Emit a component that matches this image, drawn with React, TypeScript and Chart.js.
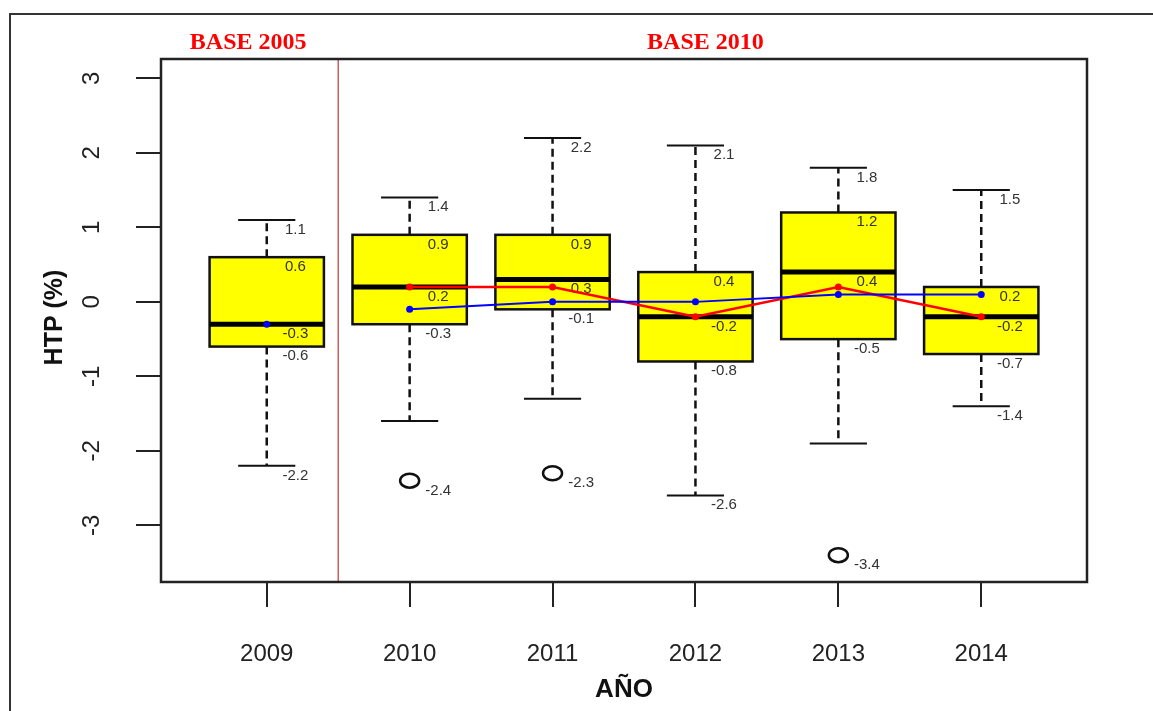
import React, { useEffect, useRef } from 'react';
import { Chart, registerables } from 'chart.js';

Chart.register(...registerables);

// ---- data ----
const years = ['2009', '2010', '2011', '2012', '2013', '2014'];
const whiskerHigh = [1.1, 1.4, 2.2, 2.1, 1.8, 1.5];
const q3 = [0.6, 0.9, 0.9, 0.4, 1.2, 0.2];
const medians = [-0.3, 0.2, 0.3, -0.2, 0.4, -0.2];
const q1 = [-0.6, -0.3, -0.1, -0.8, -0.5, -0.7];
const whiskerLow = [-2.2, -1.6, -1.3, -2.6, -1.9, -1.4];
const outliers: number[][] = [[], [-2.4], [-2.3], [], [-3.4], []];
const redSeries = [null, 0.2, 0.2, -0.2, 0.2, -0.2];
const blueBase2005 = [-0.3, null, null, null, null, null];
const blueBase2010 = [null, -0.1, 0.0, 0.0, 0.1, 0.1];
const yTicks = [-3, -2, -1, 0, 1, 2, 3];
const baseLabels = ['BASE 2005', 'BASE 2010'];
const basePositions = [0.87, 4.07];
const baseDivider = 1.5;
const xMin = 0.26;
const xMax = 6.74;
const yMin = -3.76;
const yMax = 3.26;

const toPoints = (arr: (number | null)[]) => arr.map((v, i) => ({ x: i + 1, y: v }));

const boxPlugin = {
  id: 'boxplots',
  beforeDatasetsDraw(chart: any) {
    const { ctx, scales, chartArea } = chart;
    const x = scales.x;
    const y = scales.y;
    ctx.save();
    // divider between bases
    const dx = x.getPixelForValue(baseDivider);
    ctx.strokeStyle = '#c83232';
    ctx.lineWidth = 1.2;
    ctx.beginPath();
    ctx.moveTo(dx, chartArea.top);
    ctx.lineTo(dx, chartArea.bottom);
    ctx.stroke();

    years.forEach((_, i) => {
      const cx = x.getPixelForValue(i + 1);
      const half = x.getPixelForValue(i + 1 + 0.4) - cx;
      const capHalf = half / 2;
      const yHi = y.getPixelForValue(whiskerHigh[i]);
      const yQ3 = y.getPixelForValue(q3[i]);
      const yMed = y.getPixelForValue(medians[i]);
      const yQ1 = y.getPixelForValue(q1[i]);
      const yLo = y.getPixelForValue(whiskerLow[i]);

      // whiskers
      ctx.strokeStyle = '#111';
      ctx.lineWidth = 2.5;
      ctx.setLineDash([8, 5]);
      ctx.beginPath();
      ctx.moveTo(cx, yQ3);
      ctx.lineTo(cx, yHi);
      ctx.moveTo(cx, yQ1);
      ctx.lineTo(cx, yLo);
      ctx.stroke();
      ctx.setLineDash([]);
      ctx.lineWidth = 2;
      ctx.beginPath();
      ctx.moveTo(cx - capHalf, yHi);
      ctx.lineTo(cx + capHalf, yHi);
      ctx.moveTo(cx - capHalf, yLo);
      ctx.lineTo(cx + capHalf, yLo);
      ctx.stroke();

      // box
      ctx.fillStyle = '#ffff00';
      ctx.fillRect(cx - half, yQ3, 2 * half, yQ1 - yQ3);
      ctx.lineWidth = 2.5;
      ctx.strokeStyle = '#111';
      ctx.strokeRect(cx - half, yQ3, 2 * half, yQ1 - yQ3);
      // median
      ctx.lineWidth = 5;
      ctx.strokeStyle = '#000';
      ctx.beginPath();
      ctx.moveTo(cx - half, yMed);
      ctx.lineTo(cx + half, yMed);
      ctx.stroke();

      // outliers
      ctx.lineWidth = 2.5;
      ctx.strokeStyle = '#111';
      outliers[i].forEach((o) => {
        const oy = y.getPixelForValue(o);
        ctx.beginPath();
        ctx.ellipse(cx, oy, 9.5, 7, 0, 0, Math.PI * 2);
        ctx.stroke();
      });

      // five-number labels
      const minVal = outliers[i].length ? Math.min(...outliers[i]) : whiskerLow[i];
      const labels = [whiskerHigh[i], q3[i], medians[i], q1[i], minVal];
      ctx.fillStyle = '#333';
      ctx.font = '15px "Liberation Sans", Arial, sans-serif';
      ctx.textAlign = 'center';
      ctx.textBaseline = 'middle';
      const lx = x.getPixelForValue(i + 1 + 0.2);
      labels.forEach((v) => {
        ctx.fillText(String(v), lx, y.getPixelForValue(v - 0.13));
      });
    });
    ctx.restore();
  },
  afterDraw(chart: any) {
    const { ctx, scales, chartArea } = chart;
    const x = scales.x;
    const y = scales.y;
    ctx.save();
    // plot frame
    ctx.strokeStyle = '#222';
    ctx.lineWidth = 2.5;
    ctx.strokeRect(chartArea.left, chartArea.top, chartArea.right - chartArea.left, chartArea.bottom - chartArea.top);
    // outer frame
    ctx.lineWidth = 2;
    ctx.strokeStyle = '#333';
    ctx.strokeRect(10, 14, 1300, 900);

    // y tick labels (rotated)
    ctx.fillStyle = '#222';
    ctx.font = '24px "Liberation Sans", Arial, sans-serif';
    ctx.textAlign = 'center';
    ctx.textBaseline = 'middle';
    yTicks.forEach((t) => {
      ctx.save();
      ctx.translate(92, y.getPixelForValue(t));
      ctx.rotate(-Math.PI / 2);
      ctx.fillText(String(t), 0, 0);
      ctx.restore();
    });

    // axis titles
    ctx.font = 'bold 25px "Liberation Sans", Arial, sans-serif';
    ctx.fillStyle = '#111';
    ctx.save();
    ctx.translate(55, (chartArea.top + chartArea.bottom) / 2 - 3);
    ctx.rotate(-Math.PI / 2);
    ctx.fillText('HTP (%)', 0, 0);
    ctx.restore();
    ctx.font = 'bold 26px "Liberation Sans", Arial, sans-serif';
    ctx.fillText('AÑO', (chartArea.left + chartArea.right) / 2, 690);

    // base labels
    ctx.font = 'bold 24px "Liberation Serif", "Times New Roman", serif';
    ctx.fillStyle = '#ff0000';
    baseLabels.forEach((lab, k) => {
      ctx.fillText(lab, x.getPixelForValue(basePositions[k]), 43);
    });
    ctx.restore();
  },
};

export default function App() {
  const canvasRef = useRef<HTMLCanvasElement | null>(null);

  useEffect(() => {
    if (!canvasRef.current) return;
    const chart = new Chart(canvasRef.current, {
      type: 'line',
      data: {
        datasets: [
          {
            label: 'blue2005',
            data: toPoints(blueBase2005),
            borderColor: '#0000ff',
            backgroundColor: '#0000ff',
            borderWidth: 2,
            pointRadius: 3.5,
            pointBorderWidth: 0,
            spanGaps: false,
          },
          {
            label: 'blue2010',
            data: toPoints(blueBase2010),
            borderColor: '#0000ff',
            backgroundColor: '#0000ff',
            borderWidth: 2,
            pointRadius: 3.5,
            pointBorderWidth: 0,
            spanGaps: false,
          },
          {
            label: 'red',
            data: toPoints(redSeries),
            borderColor: '#ff0000',
            backgroundColor: '#ff0000',
            borderWidth: 2.5,
            pointRadius: 3.5,
            pointBorderWidth: 0,
            spanGaps: false,
          },
        ],
      },
      options: {
        responsive: false,
        animation: false,
        devicePixelRatio: 1,
        layout: { padding: { top: 59, right: 66, left: 0, bottom: 0 } },
        plugins: { legend: { display: false }, tooltip: { enabled: false } },
        scales: {
          x: {
            type: 'linear',
            min: xMin,
            max: xMax,
            afterBuildTicks: (axis: any) => {
              axis.ticks = years.map((_, i) => ({ value: i + 1 }));
            },
            afterFit: (axis: any) => {
              axis.height = 129;
            },
            grid: {
              drawOnChartArea: false,
              drawTicks: true,
              tickLength: 25,
              lineWidth: 2,
              color: '#222',
              tickColor: '#222',
            },
            border: { display: false },
            ticks: {
              autoSkip: false,
              maxRotation: 0,
              padding: 33,
              color: '#222',
              font: { family: '"Liberation Sans", Arial, sans-serif', size: 24 },
              callback: (v: any) => years[Math.round(Number(v)) - 1] ?? '',
            },
          },
          y: {
            type: 'linear',
            min: yMin,
            max: yMax,
            afterBuildTicks: (axis: any) => {
              axis.ticks = yTicks.map((v) => ({ value: v }));
            },
            afterFit: (axis: any) => {
              axis.width = 161;
            },
            grid: {
              drawOnChartArea: false,
              drawTicks: true,
              tickLength: 25,
              lineWidth: 2,
              color: '#222',
              tickColor: '#222',
            },
            border: { display: false },
            ticks: { display: false },
          },
        },
      },
      plugins: [boxPlugin],
    });
    return () => chart.destroy();
  }, []);

  return (
    <div style={{ position: 'fixed', left: 0, top: 0, width: 1153, height: 711, background: '#fff' }}>
      <canvas ref={canvasRef} width={1153} height={711} style={{ display: 'block' }} />
    </div>
  );
}
